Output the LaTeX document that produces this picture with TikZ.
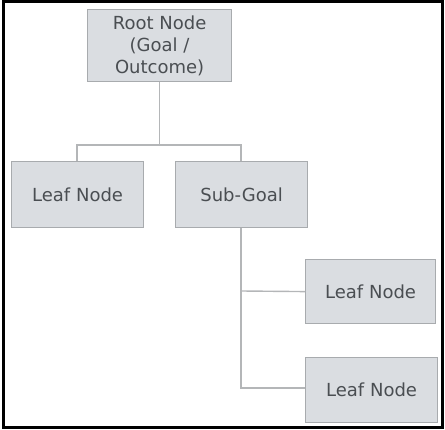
\documentclass[tikz,border=0pt]{standalone}
\usepackage{fontspec}
\setmainfont{DejaVu Sans}
\begin{document}
\begin{tikzpicture}[x=1pt,y=-1pt,
  box/.style={draw=boxline, fill=boxfill, line width=1.2pt, text=textgray,
    font=\fontsize{18}{22}\selectfont, align=center, inner sep=0pt, anchor=north west},
  link/.style={draw=linkgray, line width=1.4pt}]
\definecolor{boxfill}{HTML}{DADDE1}
\definecolor{boxline}{HTML}{A8ABAE}
\definecolor{linkgray}{HTML}{B4B6B8}
\definecolor{textgray}{HTML}{4A4E52}
\useasboundingbox (0,0) rectangle (445,430);
\draw[line width=3pt, black] (3,2) rectangle (442,428);
% boxes
\node[box, minimum width=144pt, minimum height=72pt] (root) at (87,9) {Root Node\\(Goal /\\Outcome)};
\node[box, minimum width=132pt, minimum height=66pt] (leafA) at (11,161) {Leaf Node};
\node[box, minimum width=132pt, minimum height=66pt] (sub) at (175,161) {Sub-Goal};
\node[box, minimum width=130pt, minimum height=64pt] (leafB) at (305,259) {Leaf Node};
\node[box, minimum width=132pt, minimum height=65pt] (leafC) at (305,357) {Leaf Node};
% connectors
\coordinate (split) at (root.south |- 0,145);
\draw[link] (root.south) -- (split);
\draw[link] (leafA.north -| 77,0) |- (split) -| (sub.north -| 241,0);
\coordinate (trunk) at (241,388);
\draw[link] (sub.south -| 241,0) -- (trunk) -- (leafC.west |- trunk);
\draw[link] (241,291) -- (leafB.west);
\end{tikzpicture}
\end{document}
